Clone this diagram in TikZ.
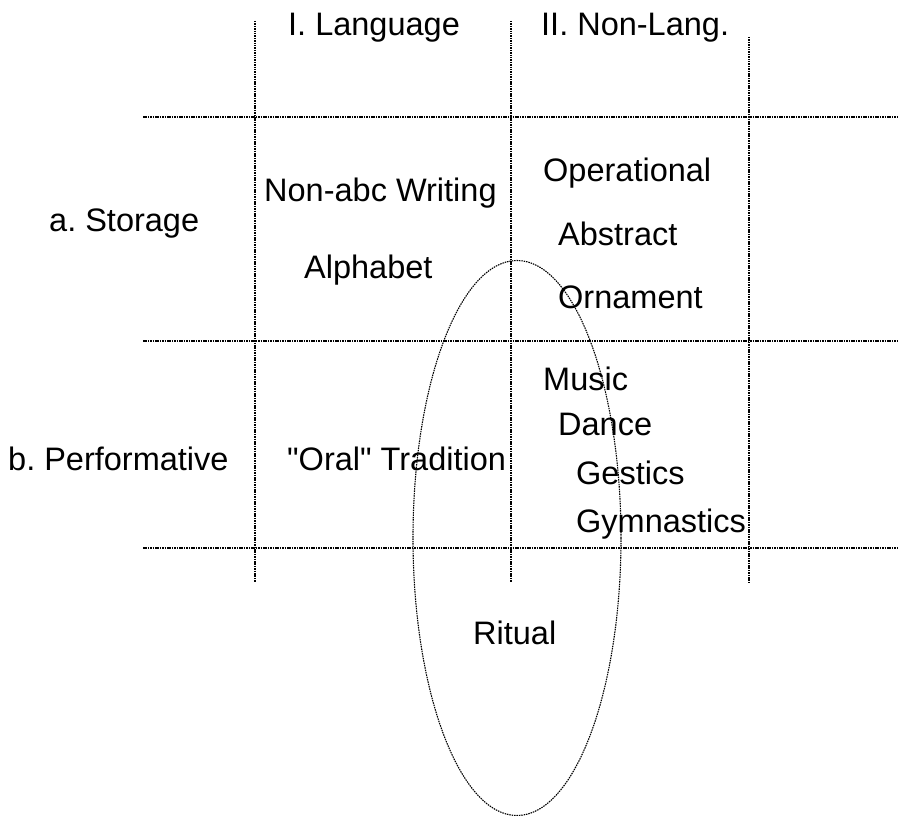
\documentclass[tikz,border=0pt]{standalone}
\usepackage{fontspec}
\setmainfont{Liberation Sans}[Ligatures=TeXOff]
\frenchspacing
\tikzset{
  grid/.style={line width=1.1pt, dash pattern=on 1.5pt off 0.9pt, black},
  lbl/.style={anchor=base west, inner sep=0pt, font=\fontsize{32.5}{39}\selectfont}
}
\begin{document}
\begin{tikzpicture}[x=1pt,y=-1pt]
\useasboundingbox (0,0) rectangle (899,816);
% grid
\draw[grid] (255,21) -- (255,582);
\draw[grid] (511,21) -- (511,582);
\draw[grid] (749,37) -- (749,582);
\draw[grid] (143,117) -- (899,117);
\draw[grid] (143,341) -- (899,341);
\draw[grid] (143,548) -- (899,548);
% ellipse
\draw[grid] (517,538) ellipse [x radius=104, y radius=277.5];
% labels
\node[lbl] (lang) at (288,36) {I. Language};
\node[lbl] (nonlang) at (541,36) {II. Non-Lang.};
\node[lbl] (storage) at (49,231) {a. Storage};
\node[lbl] (perf) at (8,470) {b. Performative};
\node[lbl] (nonabc) at (264,201) {Non-abc Writing};
\node[lbl] (alpha) at (304,278) {Alphabet};
\node[lbl] (oper) at (543,181) {Operational};
\node[lbl] (abstr) at (558,245) {Abstract};
\node[lbl] (orn) at (558,308) {Ornament};
\node[lbl] (oral) at (287,470) {"Oral" Tradition};
\node[lbl] (music) at (543,390) {Music};
\node[lbl] (dance) at (558,435) {Dance};
\node[lbl] (gest) at (576,484) {Gestics};
\node[lbl] (gym) at (576,532) {Gymnastics};
\node[lbl] (ritual) at (473,644) {Ritual};
\end{tikzpicture}
\end{document}
